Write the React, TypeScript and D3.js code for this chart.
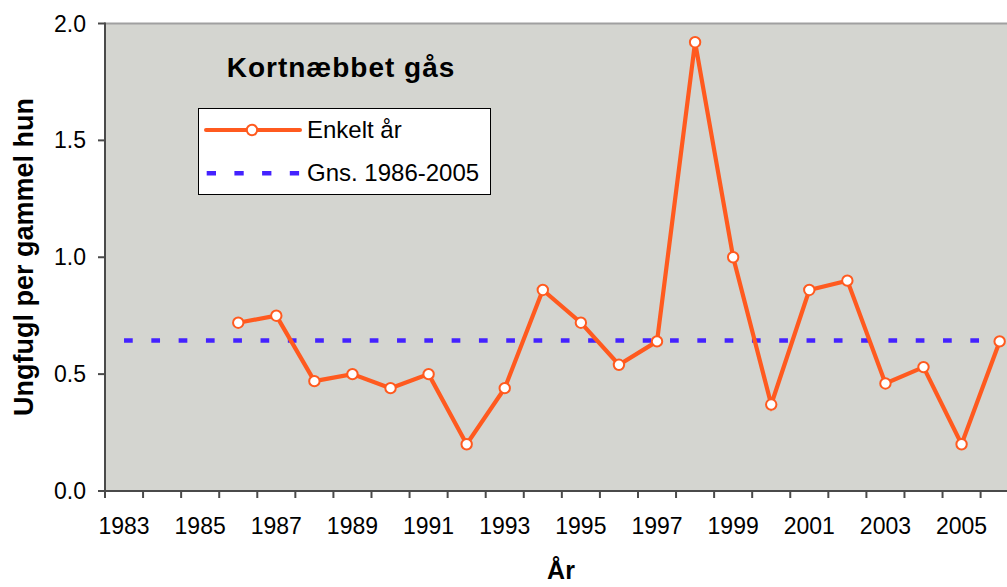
import { useEffect, useRef } from 'react';
import * as d3 from 'd3';

// Categories on the x axis (one band per year)
const years = d3.range(1983, 2007);
const tickLabelYears = years.filter(y => (y - 1983) % 2 === 0);

// Yearly values (young birds per old female)
const dataYears = [1986, 1987, 1988, 1989, 1990, 1991, 1992, 1993, 1994, 1995, 1996, 1997, 1998, 1999, 2000, 2001, 2002, 2003, 2004, 2005, 2006];
const dataValues = [0.72, 0.75, 0.47, 0.5, 0.44, 0.5, 0.2, 0.44, 0.86, 0.72, 0.54, 0.64, 1.92, 1.0, 0.37, 0.86, 0.9, 0.46, 0.53, 0.2, 0.64];

// Average 1986-2005, drawn over all categories
const avgValue = 0.644;

const yTicks = [0, 0.5, 1.0, 1.5, 2.0];

const W = 1007;
const H = 587;
const FONT = '"Liberation Sans", Arial, Helvetica, sans-serif';
const ORANGE = '#FF5A1F';
const BLUE = '#4422FF';

export default function App() {
  const svgRef = useRef<SVGSVGElement>(null);

  useEffect(() => {
    const svg = d3.select(svgRef.current);
    svg.selectAll('*').remove();

    const left = 105;
    const top = 23.5;
    const bottom = 491;
    const band = 38.07;
    const right = left + band * years.length;

    const x = d3.scaleBand<number>()
      .domain(years)
      .range([left, right]);

    const y = d3.scaleLinear()
      .domain([0, 2])
      .range([bottom, top]);

    const cx = (yr: number) => (x(yr) as number) + x.bandwidth() / 2;

    // Plot background
    svg.append('rect')
      .attr('x', left)
      .attr('y', top)
      .attr('width', right - left)
      .attr('height', bottom - top)
      .attr('fill', '#D4D5D0');

    // Top border
    svg.append('line')
      .attr('x1', left).attr('x2', right)
      .attr('y1', top).attr('y2', top)
      .attr('stroke', '#A0A0A0')
      .attr('stroke-width', 2);

    // Y axis
    svg.append('line')
      .attr('x1', left).attr('x2', left)
      .attr('y1', top - 1).attr('y2', bottom)
      .attr('stroke', '#4A4A4A')
      .attr('stroke-width', 2);

    svg.selectAll('.ytick')
      .data(yTicks)
      .enter().append('line')
      .attr('x1', left - 7).attr('x2', left)
      .attr('y1', d => y(d)).attr('y2', d => y(d))
      .attr('stroke', '#4A4A4A')
      .attr('stroke-width', 2);

    svg.selectAll('.ylabel')
      .data(yTicks)
      .enter().append('text')
      .attr('x', 86)
      .attr('y', d => y(d) + 8)
      .attr('text-anchor', 'end')
      .style('font-family', FONT)
      .style('font-size', '23px')
      .style('fill', '#000')
      .text(d => d.toFixed(1));

    // X axis
    svg.append('line')
      .attr('x1', left - 7).attr('x2', right)
      .attr('y1', bottom).attr('y2', bottom)
      .attr('stroke', '#4A4A4A')
      .attr('stroke-width', 2);

    const boundaries = years.map(yr => x(yr) as number).concat([right]);
    svg.selectAll('.xtick')
      .data(boundaries)
      .enter().append('line')
      .attr('x1', d => d).attr('x2', d => d)
      .attr('y1', bottom).attr('y2', bottom + 7)
      .attr('stroke', '#4A4A4A')
      .attr('stroke-width', 2);

    svg.selectAll('.xlabel')
      .data(tickLabelYears)
      .enter().append('text')
      .attr('x', d => cx(d))
      .attr('y', 534)
      .attr('text-anchor', 'middle')
      .style('font-family', FONT)
      .style('font-size', '23px')
      .style('fill', '#000')
      .text(d => String(d));

    // Axis titles
    svg.append('text')
      .attr('transform', `translate(33, 257) rotate(-90)`)
      .attr('text-anchor', 'middle')
      .style('font-family', FONT)
      .style('font-size', '27px')
      .style('font-weight', 'bold')
      .style('fill', '#000')
      .text('Ungfugl per gammel hun');

    svg.append('text')
      .attr('x', 561)
      .attr('y', 579)
      .attr('text-anchor', 'middle')
      .style('font-family', FONT)
      .style('font-size', '25px')
      .style('font-weight', 'bold')
      .style('fill', '#000')
      .text('År');

    // Average line
    svg.append('line')
      .attr('x1', cx(years[0]))
      .attr('x2', cx(years[years.length - 1]))
      .attr('y1', y(avgValue))
      .attr('y2', y(avgValue))
      .attr('stroke', BLUE)
      .attr('stroke-width', 4.5)
      .attr('stroke-dasharray', '8.7 18.6');

    // Yearly series
    const points = dataYears.map((yr, i) => ({ yr, v: dataValues[i] }));
    const line = d3.line<{ yr: number; v: number }>()
      .x(d => cx(d.yr))
      .y(d => y(d.v));

    svg.append('path')
      .datum(points)
      .attr('d', line)
      .attr('fill', 'none')
      .attr('stroke', ORANGE)
      .attr('stroke-width', 4.2)
      .attr('stroke-linejoin', 'miter');

    svg.selectAll('.dot')
      .data(points)
      .enter().append('circle')
      .attr('cx', d => cx(d.yr))
      .attr('cy', d => y(d.v))
      .attr('r', 5.2)
      .attr('fill', '#fff')
      .attr('stroke', ORANGE)
      .attr('stroke-width', 2);

    // Chart title
    svg.append('text')
      .attr('x', 341)
      .attr('y', 77)
      .attr('text-anchor', 'middle')
      .style('font-family', FONT)
      .style('font-size', '28px')
      .style('font-weight', 'bold')
      .style('letter-spacing', '1px')
      .style('fill', '#000')
      .text('Kortnæbbet gås');

    // Legend
    const legend = svg.append('g');
    legend.append('rect')
      .attr('x', 198.5)
      .attr('y', 108.5)
      .attr('width', 292)
      .attr('height', 86)
      .attr('fill', '#fff')
      .attr('stroke', '#000')
      .attr('stroke-width', 1);

    legend.append('line')
      .attr('x1', 206).attr('x2', 300)
      .attr('y1', 130).attr('y2', 130)
      .attr('stroke', ORANGE)
      .attr('stroke-width', 4)
      .attr('stroke-linecap', 'round');

    legend.append('circle')
      .attr('cx', 252)
      .attr('cy', 130)
      .attr('r', 5.2)
      .attr('fill', '#fff')
      .attr('stroke', ORANGE)
      .attr('stroke-width', 2);

    legend.append('line')
      .attr('x1', 206.7).attr('x2', 300)
      .attr('y1', 173.3).attr('y2', 173.3)
      .attr('stroke', BLUE)
      .attr('stroke-width', 4.5)
      .attr('stroke-dasharray', '9.3 18.4');

    legend.append('text')
      .attr('x', 307)
      .attr('y', 138)
      .style('font-family', FONT)
      .style('font-size', '24px')
      .style('fill', '#000')
      .text('Enkelt år');

    legend.append('text')
      .attr('x', 307)
      .attr('y', 181)
      .style('font-family', FONT)
      .style('font-size', '24px')
      .style('fill', '#000')
      .text('Gns. 1986-2005');
  }, []);

  return (
    <svg
      ref={svgRef}
      width={W}
      height={H}
      style={{ position: 'absolute', left: 0, top: 0, display: 'block', background: '#fff' }}
    />
  );
}
